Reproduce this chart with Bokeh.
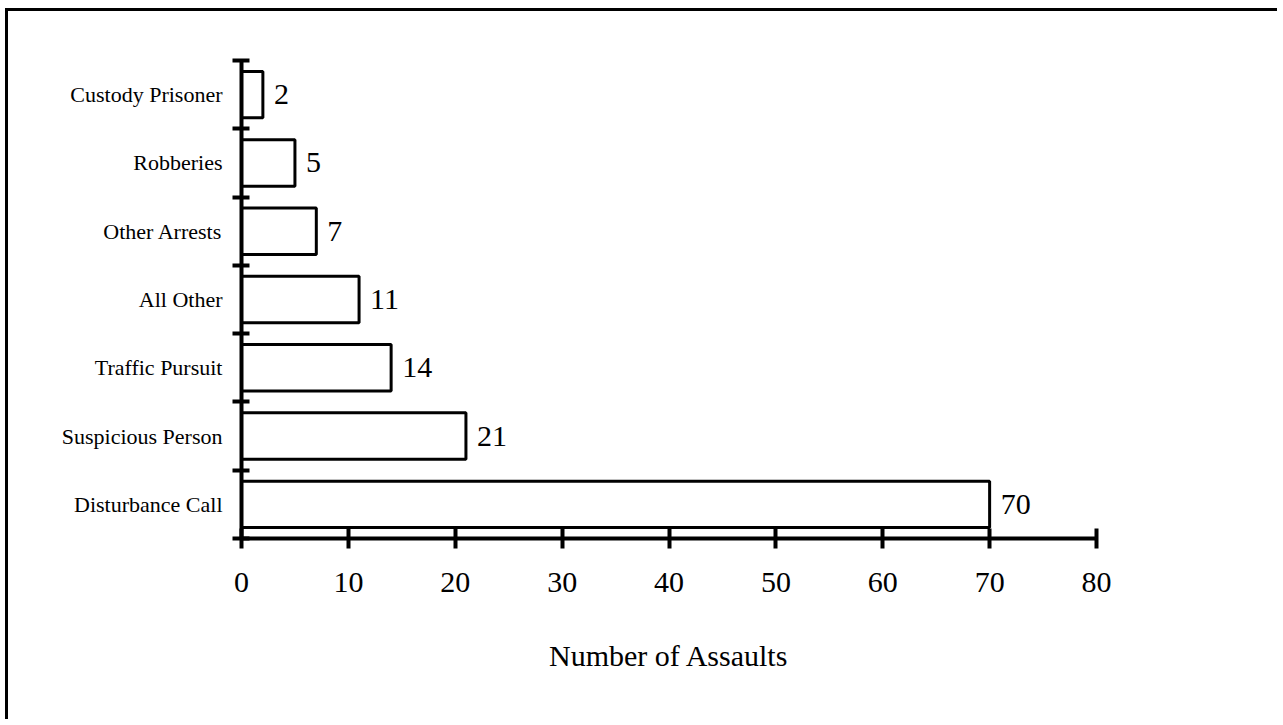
from bokeh.plotting import figure
from bokeh.models import FixedTicker, Range1d, ColumnDataSource, LabelSet
from bokeh.embed import file_html
from bokeh.resources import INLINE

categories = ["Disturbance Call", "Suspicious Person", "Traffic Pursuit", "All Other",
              "Other Arrests", "Robberies", "Custody Prisoner"]
values = [70, 21, 14, 11, 7, 5, 2]
x_ticks = [0, 10, 20, 30, 40, 50, 60, 70, 80]
axis_title = "Number of Assaults"

FONT = "Liberation Serif"

ypos = [i + 0.5 for i in range(len(categories))]
bounds = list(range(len(categories) + 1))
src = ColumnDataSource(dict(y=ypos, v=values, lbl=[str(v) for v in values], cat=categories))

p = figure(width=1272, height=711, x_range=Range1d(0, 80), y_range=Range1d(0, len(categories)),
           output_backend="svg", toolbar_location=None,
           min_border_left=233, min_border_right=184, min_border_top=49, min_border_bottom=184)
p.styles = {"border-top": "3px solid black", "border-left": "3px solid black",
            "margin-left": "5px", "margin-top": "8px"}

p.hbar(y="y", right="v", left=0, height=0.68, source=src,
       fill_color="white", line_color="black", line_width=3)

labels = LabelSet(x="v", y="y", text="lbl", source=src, x_offset=11,
                  text_baseline="middle", text_align="left",
                  text_font=FONT, text_font_size="30px", text_color="black")
p.add_layout(labels)

p.xgrid.visible = False
p.ygrid.visible = False
p.outline_line_color = None

xa = p.xaxis[0]
xa.ticker = FixedTicker(ticks=x_ticks, minor_ticks=[])
xa.axis_line_width = 4
xa.axis_line_color = "black"
xa.major_tick_line_width = 4
xa.major_tick_line_color = "black"
xa.major_tick_in = 10
xa.major_tick_out = 10
xa.major_label_text_font = FONT
xa.major_label_text_font_size = "30px"
xa.major_label_text_color = "black"
xa.major_label_standoff = 24
xa.axis_label = axis_title
xa.axis_label_text_font = FONT
xa.axis_label_text_font_size = "30px"
xa.axis_label_text_font_style = "normal"
xa.axis_label_text_color = "black"
xa.axis_label_standoff = 44

ya = p.yaxis[0]
ya.ticker = FixedTicker(ticks=ypos, minor_ticks=bounds)
ya.major_label_overrides = {y: c for y, c in zip(ypos, categories)}
ya.axis_line_width = 4
ya.axis_line_color = "black"
ya.major_tick_line_color = None
ya.major_tick_in = 0
ya.major_tick_out = 0
ya.minor_tick_line_width = 4
ya.minor_tick_line_color = "black"
ya.minor_tick_in = 8
ya.minor_tick_out = 9
ya.major_label_text_font = FONT
ya.major_label_text_font_size = "22px"
ya.major_label_text_color = "black"
ya.major_label_standoff = 10

open("out.html", "w").write(file_html(p, INLINE))
